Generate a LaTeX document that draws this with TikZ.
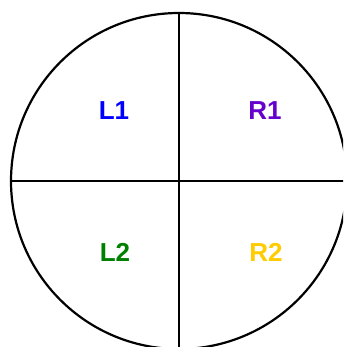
\documentclass[tikz,border=0pt]{standalone}
\usepackage{fontspec}
\setmainfont{Liberation Sans}
\definecolor{rpurple}{RGB}{102,0,204}
\definecolor{lgreen}{RGB}{0,128,0}
\definecolor{rgold}{RGB}{255,204,0}
\tikzset{
  lab/.style={inner sep=0pt, font=\fontsize{26}{30}\selectfont\bfseries},
  divider/.style={line width=2.2pt, black}
}
\begin{document}
\begin{tikzpicture}[x=1pt,y=-1pt]
\useasboundingbox (0,0) rectangle (343,347);
\clip (0,0) rectangle (343,347);
\node[circle, draw, line width=2.2pt, minimum size=336pt, inner sep=0pt, outer sep=0pt] (circ) at (179,181) {};
\draw[divider] (circ.north) -- (circ.south);
\draw[divider] (circ.west) -- (circ.east);
\node[lab, text=blue] (l1) at (114,111) {L1};
\node[lab, text=rpurple] (r1) at (265,111) {R1};
\node[lab, text=lgreen] (l2) at (115,252) {L2};
\node[lab, text=rgold] (r2) at (266,252) {R2};
\end{tikzpicture}
\end{document}
